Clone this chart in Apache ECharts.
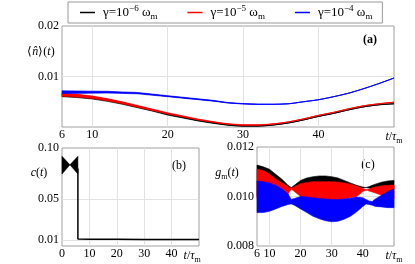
<!DOCTYPE html>
<html><head><meta charset="utf-8">
<script src="https://cdn.jsdelivr.net/npm/echarts@6/dist/echarts.min.js"></script>
<style>html,body{margin:0;padding:0;background:#fff}#c{width:415px;height:264px}</style>
</head><body><div id="c"></div>
<script>
// ---------- panel (a): <n>(t) ----------
const tA = [6,8,10,12,14,16,18,20,22,24,26,28,30,32,34,36,38,40,42,44,46,48,50];
const nBlack = [0.0063,0.0061,0.0058,0.0053,0.0047,0.0040,0.0033,0.0025,0.0019,0.0013,0.0008,0.0004,0.0002,0.0002,0.0004,0.0008,0.0014,0.0021,0.0027,0.0034,0.0040,0.0044,0.0046];
const nRed   = [0.0064,0.0062,0.0059,0.0054,0.0048,0.0041,0.0034,0.0027,0.0021,0.0015,0.0010,0.0006,0.0004,0.0004,0.0006,0.0010,0.0016,0.0023,0.0029,0.0036,0.0042,0.0046,0.0049];
const nBlue  = [0.0069,0.0069,0.0069,0.0069,0.0068,0.0067,0.0064,0.0061,0.0058,0.0055,0.0052,0.0048,0.0046,0.0045,0.0045,0.0046,0.0050,0.0054,0.0060,0.0067,0.0076,0.0086,0.0097];
// oscillation half-widths read from the zig-zag
const oscBlack = [0.00030,0.00028,0.00025,0.00022,0.00020,0.00018,0.00016,0.00014,0.00012,0.00010,0.00008,0.00006,0.00005,0.00004,0.00002,0,0,0,0,0,0,0,0];
const oscRed   = [0.00030,0.00028,0.00025,0.00022,0.00020,0.00018,0.00016,0.00014,0.00012,0.00010,0.00008,0.00006,0.00005,0.00004,0.00002,0,0,0,0,0,0,0,0];
const oscBlue  = [0.00028,0.00025,0.00020,0.00018,0.00015,0.00014,0.00012,0.00010,0.00010,0.00009,0.00008,0.00006,0.00005,0.00004,0.00002,0,0,0,0,0,0,0,0];

// ---------- panel (b): c(t) ----------
const tBow = [0, 2.9, 5.8];
const cBowHi = [0.0918, 0.0835, 0.0918];
const cBowLo = [0.0745, 0.0835, 0.0745];
const tC = [5.8, 5.8, 10, 20, 30, 40, 50];
const cVal = [0.0800, 0.0108, 0.0106, 0.0105, 0.0104, 0.0104, 0.0104];

// ---------- panel (c): g_m(t) envelopes ----------
const tG =      [6,8,10,12,14,16,17,18,20,22,24,26,28,30,32,34,36,38,40,41,42,43,44,46,48,50];
const gBlackHi = [0.01127,0.0112,0.0111,0.0109,0.0107,0.01045,0.01036,0.01045,0.01065,0.01075,0.0108,0.01083,0.01083,0.0108,0.01075,0.01065,0.01055,0.01045,0.01038,0.01036,0.0104,0.01045,0.0105,0.01058,0.01063,0.01065];
const gBlackLo = [0.0100,0.0100,0.0101,0.0102,0.0103,0.0103,0.01036,0.0103,0.0102,0.0101,0.0100,0.0100,0.0100,0.0100,0.0100,0.0101,0.0102,0.0103,0.01034,0.01036,0.01034,0.0103,0.0103,0.0103,0.0103,0.0103];
const gRedHi   = [0.0111,0.01105,0.0109,0.0107,0.01055,0.0104,0.01032,0.0104,0.01052,0.01057,0.0106,0.0106,0.0106,0.0106,0.01058,0.01055,0.0105,0.01042,0.01032,0.01027,0.0103,0.01035,0.01038,0.01043,0.01045,0.01046];
const gRedLo   = [0.0099,0.00995,0.0100,0.01005,0.0101,0.0101,0.0103,0.0102,0.0100,0.00995,0.0099,0.00985,0.00983,0.00983,0.00985,0.0099,0.00995,0.0100,0.0102,0.01026,0.01022,0.01018,0.01014,0.01005,0.0100,0.0099];
const gBlueHi  = [0.01063,0.0106,0.01055,0.01045,0.0103,0.0101,0.00988,0.00992,0.0100,0.00998,0.00995,0.00992,0.0099,0.00988,0.00988,0.0099,0.00993,0.00998,0.00995,0.00988,0.00982,0.0098,0.0099,0.01005,0.0102,0.0103];
const gBlueLo  = [0.00935,0.00935,0.0094,0.0095,0.0096,0.00968,0.0097,0.00965,0.0095,0.00935,0.0092,0.0091,0.00902,0.00898,0.009,0.00908,0.0092,0.00938,0.0096,0.0097,0.00968,0.00965,0.0096,0.00958,0.00955,0.00955];

// ---------- tick labels ----------
const xTicksA = [6,10,20,30,40,50];
const xTicksB = [0,10,20,30,40,47.5];
const yTicksA = [0.01,0.02];
const yTicksB = [0.01,0.05,0.10];
const yTicksC = [0.008,0.010,0.012];
const gridX = [10,20,30,40];

const FONT = 'Liberation Serif';
const rich = {
  it:{fontFamily:FONT,fontStyle:'italic',fontSize:12,color:'#000'},
  n:{fontFamily:FONT,fontSize:12,color:'#000'},
  L:{fontFamily:FONT,fontSize:13,color:'#000'},
  Lsub:{fontFamily:FONT,fontSize:9,color:'#000',verticalAlign:'bottom',lineHeight:17},
  Lsup:{fontFamily:FONT,fontSize:9,color:'#000',verticalAlign:'top',lineHeight:17},
  sub:{fontFamily:FONT,fontSize:8,color:'#000',verticalAlign:'bottom',lineHeight:16},
  sup:{fontFamily:FONT,fontSize:8,color:'#000',verticalAlign:'top',lineHeight:16},
  b:{fontFamily:FONT,fontSize:12,fontWeight:'bold',color:'#000'}
};
const tLabel = '{it|t}{n|/}{it|τ}{sub|m}';

function bandSeries(name, xi, t, lo, hi, color, z) {
  return {
    type:'custom', name, xAxisIndex:xi, yAxisIndex:xi, z, silent:true,
    data: t.map((x,i)=>[x, lo[i], hi[i]]),
    encode:{x:0, y:[1,2]},
    renderItem(params, api) {
      if (params.dataIndex !== 0) return null;
      const pts = [];
      for (let i=0;i<t.length;i++) pts.push(api.coord([t[i], hi[i]]));
      for (let i=t.length-1;i>=0;i--) pts.push(api.coord([t[i], lo[i]]));
      return {type:'polygon', shape:{points:pts}, style:{fill:color, stroke:color, lineWidth:0.6}};
    }
  };
}
function oscBand(name, c, a, color, z) {
  return bandSeries(name, 0, tA, c.map((v,i)=>v-a[i]), c.map((v,i)=>v+a[i]), color, z);
}
function xAxisDef(idx, min, labels, lastLabelVal) {
  return {
    type:'value', gridIndex:idx, min, max:50,
    axisLine:{show:false},
    axisTick:{show:false, customValues:gridX},
    splitLine:{show:true, lineStyle:{color:'#e2e2e2', width:1}},
    axisLabel:{customValues:labels, margin:2, color:'#000', fontFamily:FONT, fontSize:12,
      formatter:v => (v===lastLabelVal ? tLabel : String(v)), rich}
  };
}
function yAxisDef(idx, min, max, labels, grid, fmt) {
  return {
    type:'value', gridIndex:idx, min, max,
    axisLine:{show:false},
    axisTick:{show:false, customValues:grid},
    splitLine:{show:true, lineStyle:{color:'#e2e2e2', width:1}},
    axisLabel:{customValues:labels, margin:3, color:'#000', fontFamily:FONT, fontSize:12, formatter:fmt}
  };
}

const legendText = {
  g6:'{L|γ=10}{Lsup|−6}{L| ω}{Lsub|m}',
  g5:'{L|γ=10}{Lsup|−5}{L| ω}{Lsub|m}',
  g4:'{L|γ=10}{Lsup|−4}{L| ω}{Lsub|m}'
};

const chart = echarts.init(document.getElementById('c'), null, {renderer:'canvas'});
chart.setOption({
  animation:false,
  backgroundColor:'#fff',
  legend:{
    data:['g6','g5','g4'], left:68, top:2, itemGap:30, itemWidth:15, itemHeight:1.5, icon:'rect',
    padding:[2,10,2,12], borderColor:'#999', borderWidth:1, borderRadius:0,
    formatter:n => legendText[n], textStyle:{rich, fontFamily:FONT, fontSize:13, padding:[0,0,0,3]}
  },
  grid:[
    {left:62, top:26, width:332, height:101, show:true, borderColor:'#a0a0a0', borderWidth:1},
    {left:62, top:148, width:137, height:101, show:true, borderColor:'#a0a0a0', borderWidth:1},
    {left:257, top:147, width:137, height:102, show:true, borderColor:'#a0a0a0', borderWidth:1}
  ],
  xAxis:[
    xAxisDef(0, 6, xTicksA, 50),
    xAxisDef(1, 0, xTicksB, 47.5),
    xAxisDef(2, 6, xTicksA, 50)
  ],
  yAxis:[
    yAxisDef(0, 0, 0.02, yTicksA, [0.01], v => v.toFixed(2)),
    yAxisDef(1, 0.004, 0.1, yTicksB, [0.01,0.05], v => v.toFixed(2)),
    yAxisDef(2, 0.008, 0.012, yTicksC, [0.010], v => v.toFixed(3))
  ],
  graphic:[
    {type:'text', x:41, y:52, style:{text:'{n|⟨}{it|n̂}{n|⟩(}{it|t}{n|)}', rich, align:'center', verticalAlign:'middle'}},
    {type:'text', x:39, y:173, style:{text:'{it|c}{n|(}{it|t}{n|)}', rich, align:'center', verticalAlign:'middle'}},
    {type:'text', x:227, y:173, style:{text:'{it|g}{sub|m}{n|(}{it|t}{n|)}', rich, align:'center', verticalAlign:'middle'}},
    {type:'text', x:370, y:40, style:{text:'{b|(a)}', rich, align:'center', verticalAlign:'middle'}},
    {type:'text', x:179, y:166, style:{text:'{n|(b)}', rich, align:'center', verticalAlign:'middle'}},
    {type:'text', x:368, y:165, style:{text:'{n|(c)}', rich, align:'center', verticalAlign:'middle'}}
  ],
  series:[
    oscBand('bk', nBlack, oscBlack, '#000', 2),
    {type:'line', name:'g6', xAxisIndex:0, yAxisIndex:0, data:tA.map((x,i)=>[x,nBlack[i]]), showSymbol:false, smooth:true, lineStyle:{color:'#000', width:1}, itemStyle:{color:'#000'}, z:2},
    oscBand('br', nRed, oscRed, '#f00', 3),
    {type:'line', name:'g5', xAxisIndex:0, yAxisIndex:0, data:tA.map((x,i)=>[x,nRed[i]]), showSymbol:false, smooth:true, lineStyle:{color:'#f00', width:1}, itemStyle:{color:'#f00'}, z:3},
    oscBand('bb', nBlue, oscBlue, '#00f', 4),
    {type:'line', name:'g4', xAxisIndex:0, yAxisIndex:0, data:tA.map((x,i)=>[x,nBlue[i]]), showSymbol:false, smooth:true, lineStyle:{color:'#00f', width:1}, itemStyle:{color:'#00f'}, z:4},

    bandSeries('cbow', 1, tBow, cBowLo, cBowHi, '#000', 2),
    {type:'line', name:'c', xAxisIndex:1, yAxisIndex:1, data:tC.map((x,i)=>[x,cVal[i]]), showSymbol:false, lineStyle:{color:'#000', width:1.5}, z:2},

    bandSeries('gk', 2, tG, gBlackLo, gBlackHi, '#000', 2),
    bandSeries('gr', 2, tG, gRedLo, gRedHi, '#f00', 3),
    bandSeries('gb', 2, tG, gBlueLo, gBlueHi, '#00f', 4)
  ]
});
</script></body></html>
